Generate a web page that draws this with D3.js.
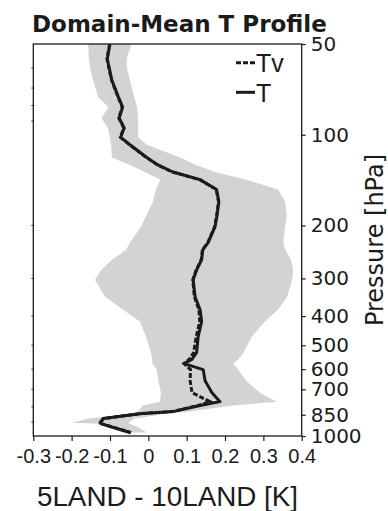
<!DOCTYPE html>
<html>
<head>
<meta charset="utf-8">
<script src="https://cdn.jsdelivr.net/npm/d3@7"></script>
<style>
  html, body { margin: 0; padding: 0; background: #fff; }
  svg { display: block; }
</style>
</head>
<body>
<svg id="chart" width="388" height="511"></svg>
<script>
// ---- data ----
const pressure = [50, 56, 60, 66, 75, 81, 88, 95, 102, 108, 119, 126, 133, 141, 152, 167, 186, 202, 228, 241, 260, 281, 303, 345, 381, 417, 468, 529, 558, 575, 602, 655, 718, 769, 792, 830, 843, 875, 903, 910, 930, 974];
const tDiff  = [-0.100, -0.107, -0.102, -0.095, -0.078, -0.067, -0.076, -0.063, -0.072, -0.048, -0.004, 0.025, 0.064, 0.135, 0.178, 0.184, 0.179, 0.174, 0.156, 0.142, 0.139, 0.126, 0.117, 0.122, 0.135, 0.139, 0.130, 0.126, 0.113, 0.093, 0.143, 0.148, 0.166, 0.187, 0.135, 0.064, -0.022, -0.118, -0.126, -0.124, -0.100, -0.048];
const tvDiff = [-0.101, -0.108, -0.103, -0.096, -0.079, -0.068, -0.077, -0.064, -0.073, -0.049, -0.005, 0.024, 0.063, 0.134, 0.177, 0.183, 0.178, 0.173, 0.155, 0.141, 0.138, 0.125, 0.116, 0.120, 0.132, 0.134, 0.125, 0.118, 0.106, 0.093, 0.110, 0.109, 0.114, 0.161, 0.130, 0.062, -0.022, -0.116, -0.126, -0.122, -0.098, -0.045];
const bandLow  = [-0.157, -0.155, -0.152, -0.144, -0.131, -0.104, -0.122, -0.106, -0.100, -0.097, -0.095, -0.048, -0.009, 0.031, 0.020, 0.012, -0.006, -0.019, -0.048, -0.058, -0.095, -0.123, -0.139, -0.113, -0.066, -0.022, -0.006, 0.007, 0.010, 0.010, 0.022, 0.026, 0.033, 0.030, -0.014, -0.027, -0.045, -0.155, -0.200, -0.120, -0.105, -0.065];
const bandHigh = [-0.044, -0.056, -0.056, -0.048, -0.037, -0.029, -0.027, -0.026, -0.027, -0.004, 0.083, 0.124, 0.174, 0.256, 0.338, 0.357, 0.361, 0.357, 0.352, 0.357, 0.372, 0.378, 0.375, 0.362, 0.338, 0.304, 0.270, 0.248, 0.234, 0.222, 0.234, 0.255, 0.291, 0.335, 0.221, 0.109, 0.048, -0.035, -0.052, -0.050, -0.030, -0.004];

const xTicks = [-0.3, -0.2, -0.1, 0, 0.1, 0.2, 0.3, 0.4];
const pTicks = [50, 100, 200, 300, 400, 500, 600, 700, 850, 1000];
const pMinorTicks = [60, 70, 80, 90, 200, 300, 400, 500, 600, 700, 800, 900];
const legendItems = [{label: "Tv", dashed: true}, {label: "T", dashed: false}];
const titleText = "Domain-Mean T Profile";
const xLabel = "5LAND - 10LAND [K]";
const yLabel = "Pressure [hPa]";

// ---- layout ----
const L = 33.3, R = 301.7, T = 44, B = 436;
const ink = "#1b1b1b";
const dash = "5,2";
const svg = d3.select("#chart");

const x = d3.scaleLinear().domain([-0.3, 0.4]).range([L, R]);
const y = d3.scaleLog().domain([50, 1000]).range([T, B]);

const rows = pressure.map((p, i) => ({p, t: tDiff[i], tv: tvDiff[i], lo: bandLow[i], hi: bandHigh[i]}));

const plot = svg.append("g");
plot.append("clipPath").attr("id", "clip").append("rect")
  .attr("x", L).attr("y", T).attr("width", R - L).attr("height", B - T);
const inner = plot.append("g").attr("clip-path", "url(#clip)");

inner.append("path").datum(rows)
  .attr("d", d3.area().y(d => y(d.p)).x0(d => x(d.lo)).x1(d => x(d.hi)))
  .attr("fill", "#d2d3d5").attr("stroke", "none");

inner.append("path").datum(rows)
  .attr("d", d3.line().y(d => y(d.p)).x(d => x(d.tv)))
  .attr("fill", "none").attr("stroke", ink).attr("stroke-width", 3)
  .attr("stroke-dasharray", dash);

inner.append("path").datum(rows)
  .attr("d", d3.line().y(d => y(d.p)).x(d => x(d.t)))
  .attr("fill", "none").attr("stroke", ink).attr("stroke-width", 3)
  .attr("stroke-linejoin", "round");

// frame
svg.append("rect").attr("x", L).attr("y", T).attr("width", R - L).attr("height", B - T)
  .attr("fill", "none").attr("stroke", ink).attr("stroke-width", 1.3);

// left minor ticks
svg.append("g").selectAll("line").data(pMinorTicks).join("line")
  .attr("x1", L).attr("x2", L - 2).attr("y1", d => y(d)).attr("y2", d => y(d))
  .attr("stroke", ink).attr("stroke-width", 0.8);

// bottom axis
const fmtX = d => d === 0 ? "0" : d.toFixed(1);
const gx = svg.append("g").attr("transform", `translate(0,${B})`)
  .call(d3.axisBottom(x).tickValues(xTicks).tickFormat(fmtX).tickSize(5).tickSizeOuter(0).tickPadding(8));
gx.select(".domain").remove();
gx.selectAll("line").attr("stroke", ink).attr("stroke-width", 1.2);
gx.selectAll("text").attr("font-family", "'Liberation Sans', Arial, sans-serif")
  .attr("font-size", 20).attr("fill", ink);

// right axis
const gy = svg.append("g").attr("transform", `translate(${R},0)`)
  .call(d3.axisRight(y).tickValues(pTicks).tickFormat(d3.format("d")).tickSize(4).tickSizeOuter(0).tickPadding(5));
gy.select(".domain").remove();
gy.selectAll("line").attr("stroke", ink).attr("stroke-width", 1.2);
gy.selectAll("text").attr("font-family", "'DejaVu Sans', sans-serif")
  .attr("font-size", 20).attr("fill", ink);

// title
svg.append("text").attr("x", 32).attr("y", 32)
  .attr("font-family", "'DejaVu Sans', sans-serif").attr("font-weight", "bold")
  .attr("font-size", 23).attr("fill", ink).text(titleText);

// x label
svg.append("text").attr("x", (L + R) / 2).attr("y", 506).attr("text-anchor", "middle")
  .attr("font-family", "'Liberation Sans', Arial, sans-serif")
  .attr("font-size", 27.8).attr("fill", ink).text(xLabel);

// y label (right side)
svg.append("text").attr("transform", `translate(383,${240}) rotate(-90)`).attr("text-anchor", "middle")
  .attr("font-family", "'DejaVu Sans', sans-serif")
  .attr("font-size", 24).attr("fill", ink).text(yLabel);

// legend
const lg = svg.append("g").selectAll("g").data(legendItems).join("g")
  .attr("transform", (d, i) => `translate(236,${62.7 + i * 29.6})`);
lg.append("line").attr("x1", 0).attr("x2", 19).attr("y1", 0).attr("y2", 0)
  .attr("stroke", ink).attr("stroke-width", 3)
  .attr("stroke-dasharray", d => d.dashed ? dash : null);
lg.append("text").attr("x", 20).attr("y", 9.5)
  .attr("font-family", "'Liberation Sans', Arial, sans-serif")
  .attr("font-size", 25).attr("fill", ink).text(d => d.label);
</script>
</body>
</html>
